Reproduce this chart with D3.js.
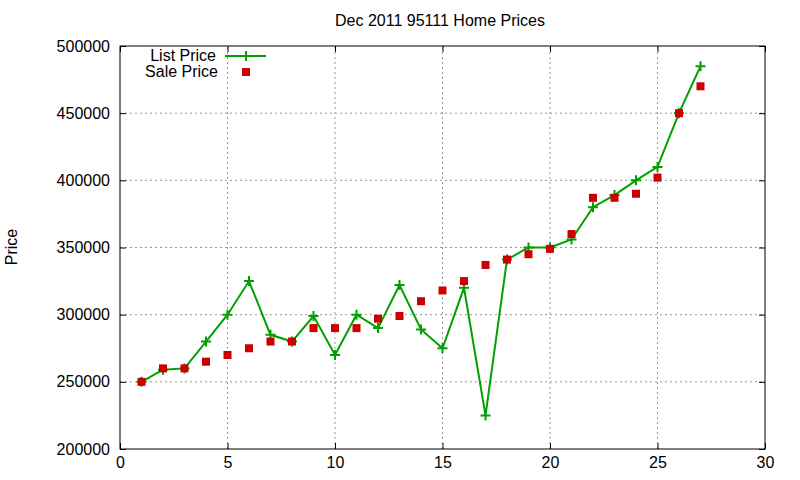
<!DOCTYPE html>
<html>
<head>
<meta charset="utf-8">
<script src="https://cdn.jsdelivr.net/npm/d3@7"></script>
<style>
  body { margin: 0; background: #fff; }
  svg text { font-family: "Liberation Sans", Arial, sans-serif; fill: #000; }
</style>
</head>
<body>
<div id="chart"></div>
<script>
// data
const days = d3.range(1, 28);
const listPrice = [250000, 259000, 260000, 280000, 300000, 325000, 285000, 280000, 299000, 270000,
                   300000, 290000, 322000, 289000, 275000, 320000, 225000, 341000, 350000, 350000,
                   356000, 380000, 389000, 400000, 410000, 450000, 485000];
const salePrice = [250000, 260000, 260000, 265000, 270000, 275000, 280000, 280000, 290000, 290000,
                   290000, 297000, 299000, 310000, 318000, 325000, 337000, 341000, 345000, 349000,
                   360000, 387000, 387000, 390000, 402000, 450000, 470000];
const xTicks = [0, 5, 10, 15, 20, 25, 30];
const yTicks = [200000, 250000, 300000, 350000, 400000, 450000, 500000];

const W = 800, H = 480;
const MARGIN = {top: 46, right: 35, bottom: 31, left: 120};
const GREEN = "#00a000", RED = "#cc0000";
const FS = 16;

const svg = d3.select("#chart").append("svg")
    .attr("width", W).attr("height", H);

const x = d3.scaleLinear().domain([0, 30]).range([MARGIN.left, W - MARGIN.right]);
const y = d3.scaleLinear().domain([200000, 500000]).range([H - MARGIN.bottom, MARGIN.top]);

// grid
svg.append("g").selectAll("line.gx")
    .data(xTicks.slice(1, -1)).join("line")
    .attr("x1", d => x(d)).attr("x2", d => x(d))
    .attr("y1", y.range()[0]).attr("y2", y.range()[1])
    .attr("stroke", "#999").attr("stroke-dasharray", "2,3");
svg.append("g").selectAll("line.gy")
    .data(yTicks.slice(1, -1)).join("line")
    .attr("y1", d => y(d)).attr("y2", d => y(d))
    .attr("x1", x.range()[0]).attr("x2", x.range()[1])
    .attr("stroke", "#999").attr("stroke-dasharray", "2,3");

// axes, ticks inward on all sides (mirrored)
const axB = svg.append("g").attr("transform", `translate(0,${y.range()[0]})`)
    .call(d3.axisBottom(x).tickValues(xTicks).tickSizeInner(-6).tickSizeOuter(0).tickPadding(8));
const axT = svg.append("g").attr("transform", `translate(0,${y.range()[1]})`)
    .call(d3.axisTop(x).tickValues(xTicks).tickSizeInner(-6).tickSizeOuter(0).tickFormat(""));
const axL = svg.append("g").attr("transform", `translate(${x.range()[0]},0)`)
    .call(d3.axisLeft(y).tickValues(yTicks).tickSizeInner(-6).tickSizeOuter(0).tickPadding(10).tickFormat(d3.format("d")));
const axR = svg.append("g").attr("transform", `translate(${x.range()[1]},0)`)
    .call(d3.axisRight(y).tickValues(yTicks).tickSizeInner(-6).tickSizeOuter(0).tickFormat(""));
[axB, axT, axL, axR].forEach(g => {
  g.select(".domain").remove();
  g.selectAll("line").attr("stroke", "#000");
  g.selectAll("text").attr("font-size", FS).attr("font-family", "Liberation Sans, Arial, sans-serif");
});

// frame
svg.append("rect")
    .attr("x", x.range()[0]).attr("y", y.range()[1])
    .attr("width", x.range()[1] - x.range()[0]).attr("height", y.range()[0] - y.range()[1])
    .attr("fill", "none").attr("stroke", "#000").attr("stroke-width", 1);

// title and y label
svg.append("text").attr("x", 440).attr("y", 26).attr("text-anchor", "middle")
    .attr("font-size", FS).text("Dec 2011 95111 Home Prices");
svg.append("text").attr("transform", "translate(17,247) rotate(-90)").attr("text-anchor", "middle")
    .attr("font-size", FS).text("Price");

const plus = (g, cx, cy) => g.append("path")
    .attr("d", `M${cx - 5},${cy}H${cx + 5}M${cx},${cy - 5}V${cy + 5}`)
    .attr("stroke", GREEN).attr("stroke-width", 2);

// list price line with + markers
const line = d3.line().x((d, i) => x(days[i])).y(d => y(d));
svg.append("path").datum(listPrice)
    .attr("d", line).attr("fill", "none").attr("stroke", GREEN).attr("stroke-width", 2);
const gList = svg.append("g");
listPrice.forEach((d, i) => plus(gList, x(days[i]), y(d)));

// sale price squares (drawn on top of the list line)
svg.append("g").selectAll("rect").data(salePrice).join("rect")
    .attr("x", (d, i) => x(days[i]) - 4).attr("y", d => y(d) - 4)
    .attr("width", 8).attr("height", 8).attr("fill", RED);

// legend
const leg = svg.append("g");
leg.append("text").attr("x", 216).attr("y", 61).attr("text-anchor", "end").attr("font-size", FS).text("List Price");
leg.append("line").attr("x1", 225).attr("x2", 266).attr("y1", 56).attr("y2", 56)
    .attr("stroke", GREEN).attr("stroke-width", 2);
plus(leg, 246, 56);
leg.append("text").attr("x", 218).attr("y", 77).attr("text-anchor", "end").attr("font-size", FS).text("Sale Price");
leg.append("rect").attr("x", 242).attr("y", 68).attr("width", 8).attr("height", 8).attr("fill", RED);
</script>
</body>
</html>
